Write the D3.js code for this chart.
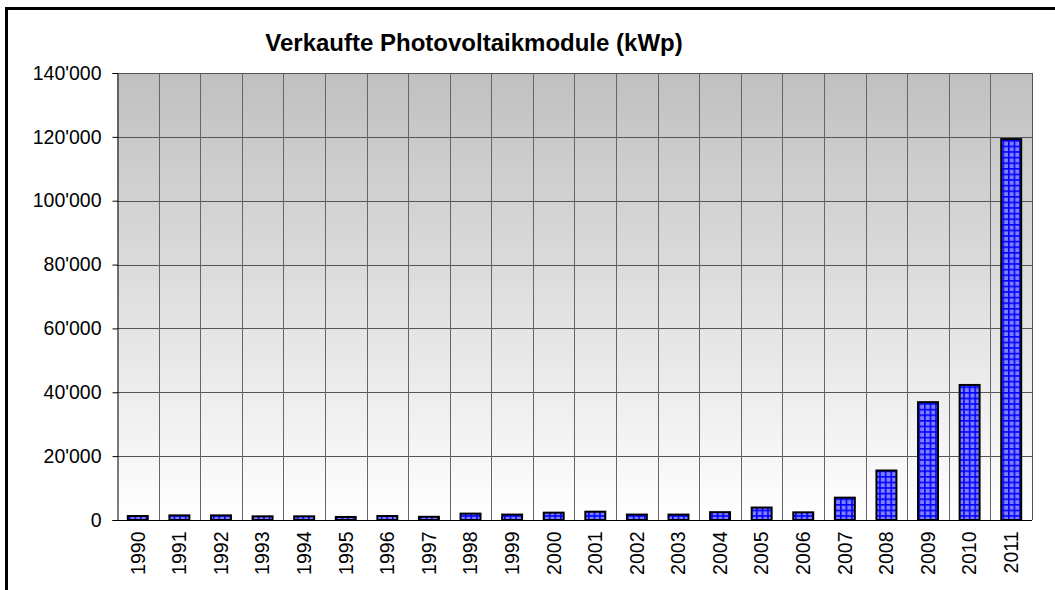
<!DOCTYPE html>
<html>
<head>
<meta charset="utf-8">
<script src="https://cdn.jsdelivr.net/npm/d3@7"></script>
<style>
  body { margin: 0; background: #fff; }
  svg { display: block; font-family: "Liberation Sans", Arial, sans-serif; }
</style>
</head>
<body>
<script>
//chart data
var years = ["1990","1991","1992","1993","1994","1995","1996","1997","1998","1999","2000",
             "2001","2002","2003","2004","2005","2006","2007","2008","2009","2010","2011"];
var soldKwp = [1250, 1450, 1450, 1150, 1150, 950, 1250, 1000, 2000, 1700, 2300,
               2600, 1700, 1700, 2450, 3900, 2400, 7000, 15500, 36900, 42300, 119300];
var yTicks = [0, 20000, 40000, 60000, 80000, 100000, 120000, 140000];
var chartTitle = "Verkaufte Photovoltaikmodule (kWp)";

(function(){

//frame dimensions
var width = 1055, height = 590;
var plotLeft = 117, plotRight = 1032, plotTop = 73, plotBottom = 520;

var svg = d3.select("body").append("svg")
    .attr("width", width)
    .attr("height", height);

var defs = svg.append("defs");

//gray to white background of the plot area
var grad = defs.append("linearGradient")
    .attr("id", "bg")
    .attr("x1", 0).attr("y1", 0).attr("x2", 0).attr("y2", 1);
grad.append("stop").attr("offset", "0%").attr("stop-color", "#c0c0c0");
grad.append("stop").attr("offset", "100%").attr("stop-color", "#ffffff");

//blue checkered fill for the bars
var pat = defs.append("pattern")
    .attr("id", "grid")
    .attr("patternUnits", "userSpaceOnUse")
    .attr("width", 5.6).attr("height", 5.6);
pat.append("rect").attr("width", 5.6).attr("height", 5.6).attr("fill", "#8080ff");
pat.append("rect").attr("width", 1.6).attr("height", 5.6).attr("fill", "#0000ff");
pat.append("rect").attr("width", 5.6).attr("height", 1.6).attr("fill", "#0000ff");

//scales
var x = d3.scaleBand()
    .domain(years)
    .range([plotLeft, plotRight])
    .paddingInner(0.52)
    .paddingOuter(0.26);

var y = d3.scaleLinear()
    .domain([0, 140000])
    .range([plotBottom, plotTop]);

//plot background
svg.append("rect")
    .attr("x", plotLeft).attr("y", plotTop)
    .attr("width", plotRight - plotLeft).attr("height", plotBottom - plotTop)
    .attr("fill", "url(#bg)");

//horizontal grid lines
svg.selectAll(".hgrid")
    .data(yTicks.slice(1))
    .enter()
    .append("line")
    .attr("class", "hgrid")
    .attr("x1", plotLeft).attr("x2", plotRight)
    .attr("y1", function(d){ return Math.round(y(d)) + 0.5; })
    .attr("y2", function(d){ return Math.round(y(d)) + 0.5; })
    .attr("stroke", "#555")
    .attr("stroke-width", 1);

//vertical grid lines between categories
var step = x.step();
svg.selectAll(".vgrid")
    .data(years.slice(1))
    .enter()
    .append("line")
    .attr("class", "vgrid")
    .attr("x1", function(d){ return Math.round(x(d) - x.paddingOuter() * step) + 0.5; })
    .attr("x2", function(d){ return Math.round(x(d) - x.paddingOuter() * step) + 0.5; })
    .attr("y1", plotTop).attr("y2", plotBottom)
    .attr("stroke", "#666")
    .attr("stroke-width", 1);

//right border of plot area
svg.append("line")
    .attr("x1", plotRight + 0.5).attr("x2", plotRight + 0.5)
    .attr("y1", plotTop).attr("y2", plotBottom)
    .attr("stroke", "#555");

//bars
svg.selectAll(".bar")
    .data(soldKwp)
    .enter()
    .append("rect")
    .attr("class", "bar")
    .attr("x", function(d, i){ return x(years[i]); })
    .attr("width", x.bandwidth())
    .attr("y", function(d){ return y(d); })
    .attr("height", function(d){ return plotBottom - y(d); })
    .attr("fill", "url(#grid)")
    .attr("stroke", "#000")
    .attr("stroke-width", 2);

//y axis
var yAxis = d3.axisLeft(y)
    .tickValues(yTicks)
    .tickSize(5)
    .tickPadding(11)
    .tickFormat(function(d){ return d3.format(",")(d).replace(/,/g, "'"); });

var gy = svg.append("g")
    .attr("transform", "translate(" + (plotLeft + 0.5) + ",0)")
    .call(yAxis);
gy.select(".domain").attr("stroke", "#000");
gy.selectAll("text").attr("font-size", 19.5).attr("fill", "#000");

//x axis
var xAxis = d3.axisBottom(x).tickSize(0).tickPadding(0);
var gx = svg.append("g")
    .attr("transform", "translate(0," + (plotBottom + 0.5) + ")")
    .call(xAxis);
gx.select(".domain").attr("d", "M" + plotLeft + ",0H" + plotRight).attr("stroke", "#000");
gx.selectAll("text")
    .attr("font-size", 19.5)
    .attr("fill", "#000")
    .attr("text-anchor", "end")
    .attr("dy", "0.35em")
    .attr("transform", "translate(0,11) rotate(-90)")
    .attr("x", 0).attr("y", 0);

//title
svg.append("text")
    .attr("x", 474).attr("y", 51)
    .attr("text-anchor", "middle")
    .attr("font-size", 24)
    .attr("font-weight", "bold")
    .attr("fill", "#000")
    .text(chartTitle);

//outer frame (top and left)
svg.append("path")
    .attr("d", "M6.5," + height + "V8.5H" + width)
    .attr("fill", "none")
    .attr("stroke", "#000")
    .attr("stroke-width", 3);

})();
</script>
</body>
</html>
